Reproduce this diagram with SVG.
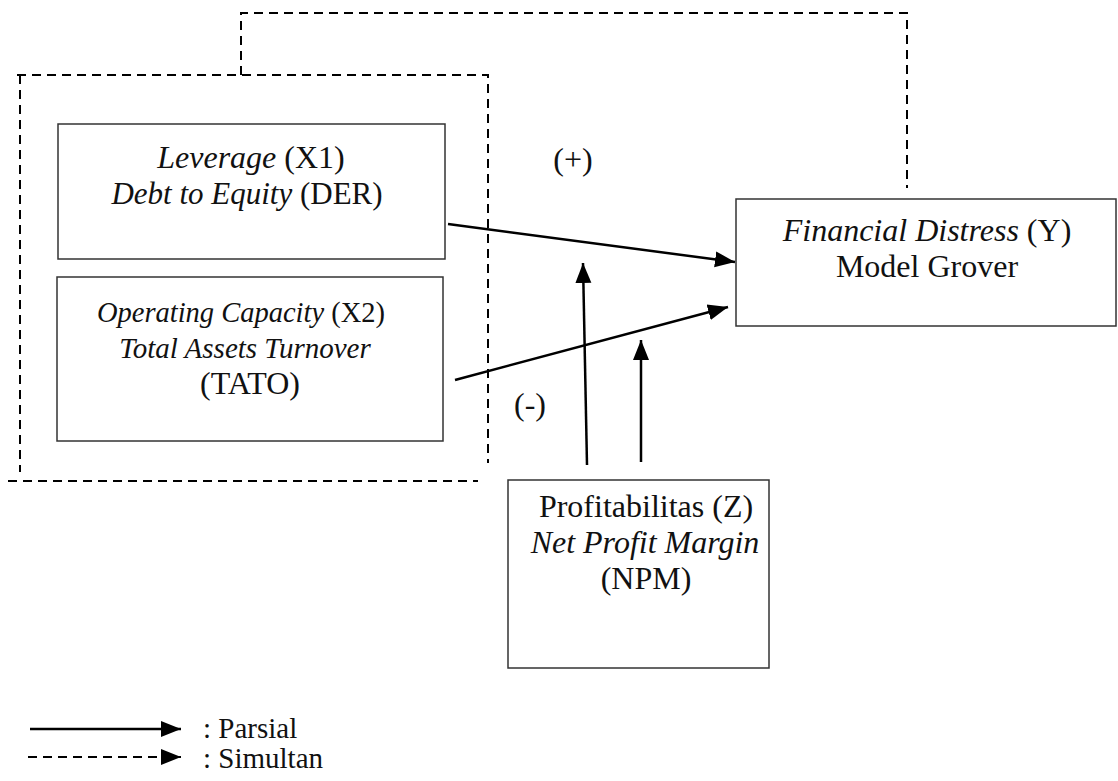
<svg xmlns="http://www.w3.org/2000/svg" width="1118" height="781" viewBox="0 0 1118 781">
  <defs>
    <style>
      .box { fill: #ffffff; stroke: #333333; stroke-width: 1.5; }
      .lbl { font-family: "Liberation Serif", "Times New Roman", serif; font-size: 32px; fill: #111111; text-anchor: middle; }
      .lgd { font-family: "Liberation Serif", "Times New Roman", serif; font-size: 29px; fill: #111111; }
      .it { font-style: italic; }
      .solid { stroke: #000000; stroke-width: 2.5; fill: none; }
      .dash { stroke: #000000; stroke-width: 2; fill: none; stroke-dasharray: 9 6; }
    </style>
    <marker id="head" markerUnits="userSpaceOnUse" markerWidth="22" markerHeight="18" refX="20" refY="9" orient="auto">
      <path d="M0,1 L20,9 L0,17 z" fill="#000000"/>
    </marker>
  </defs>

  <rect width="1118" height="781" fill="#ffffff"/>

  <!-- simultaneous path: dashed frame around X1 and X2, linked to Y -->
  <g id="simultan-frame">
    <polyline class="dash" points="241,75 241,13 907,13 907,188"/>
    <polyline class="dash" points="17,75 488,75 488,463"/>
    <line class="dash" x1="20" y1="75" x2="20" y2="472"/>
    <line class="dash" x1="8" y1="481" x2="478" y2="481"/>
  </g>

  <g id="node-x1">
    <rect class="box" x="58" y="124" width="387" height="135"/>
    <text class="lbl" x="251" y="168"><tspan class="it">Leverage</tspan> (X1)</text>
    <text class="lbl" x="247" y="204" style="font-size:31px"><tspan class="it">Debt to Equity</tspan> (DER)</text>
  </g>

  <g id="node-x2">
    <rect class="box" x="57" y="277" width="386" height="164"/>
    <text class="lbl" x="241" y="322" style="font-size:28.5px"><tspan class="it">Operating Capacity</tspan> (X2)</text>
    <text class="lbl it" x="245" y="358" style="font-size:29px">Total Assets Turnover</text>
    <text class="lbl" x="250" y="394">(TATO)</text>
  </g>

  <g id="node-y">
    <rect class="box" x="736" y="199" width="380" height="127"/>
    <text class="lbl" x="927" y="241"><tspan class="it">Financial Distress</tspan> (Y)</text>
    <text class="lbl" x="927" y="277">Model Grover</text>
  </g>

  <g id="node-z">
    <rect class="box" x="508" y="480" width="261" height="188"/>
    <text class="lbl" x="646" y="517">Profitabilitas (Z)</text>
    <text class="lbl it" x="645" y="553">Net Profit Margin</text>
    <text class="lbl" x="646" y="589">(NPM)</text>
  </g>

  <!-- partial paths -->
  <g id="connectors">
    <line class="solid" x1="448" y1="224" x2="735" y2="262" marker-end="url(#head)"/>
    <line class="solid" x1="455" y1="380" x2="728" y2="307" marker-end="url(#head)"/>
    <line class="solid" x1="587" y1="465" x2="583" y2="263" marker-end="url(#head)"/>
    <line class="solid" x1="641" y1="462" x2="641" y2="340" marker-end="url(#head)"/>
  </g>

  <g id="signs">
    <text class="lbl" x="573" y="170">(+)</text>
    <text class="lbl" x="530" y="415">(-)</text>
  </g>

  <g id="legend">
    <line class="solid" x1="30" y1="729" x2="181" y2="729" marker-end="url(#head)"/>
    <text class="lgd" x="203" y="738">: Parsial</text>
    <line class="dash" x1="28" y1="757" x2="181" y2="757" stroke-dasharray="6 5" marker-end="url(#head)"/>
    <text class="lgd" x="203" y="768">: Simultan</text>
  </g>
</svg>
